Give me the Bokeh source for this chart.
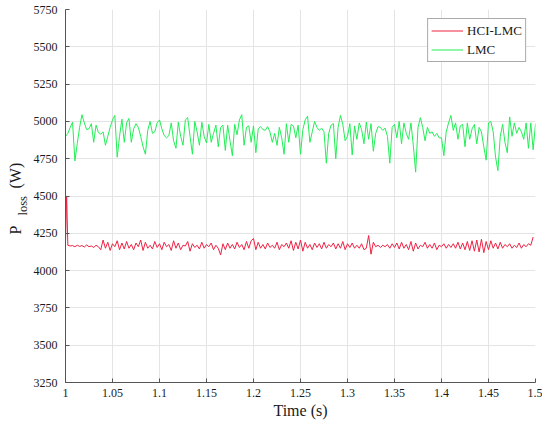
import numpy as np
from bokeh.plotting import figure
from bokeh.layouts import row
from bokeh.models import Range1d, FixedTicker, Legend, LegendItem
from bokeh.core.properties import value
from bokeh.embed import file_html
from bokeh.resources import INLINE

# ---- data ----
t_start = 1.0
t_step = 0.0025

lmc_values = [
    4900, 4920, 4960, 4995, 4735, 4850, 4960, 5045, 4990, 4945,
    4950, 4985, 4860, 4975, 4925, 4915, 4930, 4840, 4900, 4960,
    5010, 5040, 4760, 4900, 5015, 4860, 4990, 5020, 4860, 4950,
    4985, 4960, 4900, 4830, 4780, 4940, 5000, 4920, 4930, 4990,
    5010, 4950, 4905, 4890, 4905, 4990, 4870, 4820, 4995, 4900,
    4840, 5010, 5025, 4900, 4780, 5000, 4930, 4840, 4995, 4900,
    4855, 4980, 4860, 4920, 4975, 4830, 4960, 4975, 4805, 4975,
    4870, 4770, 4980, 4910, 5010, 5045, 4840, 4960, 4970, 4860,
    4970, 4790, 4950, 4965, 4945, 4940, 4965, 4930, 4860, 4920,
    4840, 4960, 4890, 4780, 4985, 4860, 4980, 4970, 4890, 4975,
    4780, 4945, 5010, 5035, 4860, 4930, 5000, 4960, 4940, 4955,
    4930, 4720, 4920, 4975, 4985, 4750, 4960, 5040, 4980, 4870,
    4900, 4985, 4775, 4970, 4880, 4990, 4945, 4850, 4995, 4880,
    4985, 4800, 4920, 4965, 4960, 4940, 4955, 4900, 4720, 4960,
    4980, 4890, 5000, 4850, 4990, 4920, 4880, 4990, 4840, 4660,
    4960, 5025, 4960, 4870, 4960, 4920, 4930, 4900, 4920, 4890,
    4890, 4770, 4930, 4990, 5040, 4940, 4990, 4880, 4970, 4980,
    4830, 4990, 4880, 4950, 4980, 4850, 4960, 4930, 4830, 4740,
    4990, 5000, 4930, 4760, 4670, 4900, 4980, 4860, 4790, 5030,
    4900, 4990, 4920, 4960, 4930, 4880, 4990, 4820, 4990, 4810,
    4985,
]

hci_spike_t = [1.0, 1.0012]
hci_spike_values = [4190, 4500]
hci_values = [
    4170, 4165, 4168, 4160, 4170, 4162, 4168, 4158, 4172, 4160,
    4165, 4155, 4170, 4160,
    4140, 4205, 4150, 4190, 4135, 4180, 4160, 4200, 4140, 4185,
    4145, 4195, 4150, 4175, 4140, 4185, 4160, 4205, 4135, 4190,
    4150, 4170, 4145, 4195, 4155, 4180, 4140, 4190, 4160, 4175,
    4135, 4200, 4150, 4185, 4140, 4170, 4165, 4195, 4130, 4180,
    4155, 4170, 4145, 4190, 4150, 4175, 4160, 4185, 4140, 4170,
    4150, 4105, 4180, 4140, 4185, 4150, 4175, 4145, 4190, 4155,
    4175, 4140, 4195, 4150, 4200, 4215, 4140, 4190, 4150, 4175,
    4145, 4185, 4155, 4170, 4150, 4190, 4140, 4175, 4160, 4185,
    4150, 4200, 4135, 4190, 4145, 4205, 4130, 4190, 4150, 4175,
    4140, 4185, 4155, 4180, 4145, 4190, 4150, 4175, 4160, 4185,
    4145, 4180, 4150, 4195, 4140, 4180, 4155, 4185, 4150, 4170,
    4150, 4180, 4140, 4150, 4235, 4110, 4190, 4160, 4170, 4155,
    4170, 4160, 4175, 4150, 4180, 4155, 4185, 4145, 4190, 4150,
    4175, 4140, 4195, 4130, 4185, 4145, 4170, 4160, 4190, 4150,
    4175, 4150, 4185, 4140, 4170, 4160, 4180, 4150, 4175, 4155,
    4180, 4150, 4190, 4145, 4185, 4140, 4195, 4135, 4200, 4130,
    4205, 4125, 4210, 4120, 4195, 4140, 4200, 4150, 4185, 4145,
    4190, 4150, 4175, 4160, 4180, 4150, 4170, 4155, 4185, 4150,
    4175, 4160, 4180, 4170, 4225,
]

x_ticks = [1.0, 1.05, 1.1, 1.15, 1.2, 1.25, 1.3, 1.35, 1.4, 1.45, 1.5]
x_tick_labels = ["1", "1.05", "1.1", "1.15", "1.2", "1.25", "1.3", "1.35", "1.4", "1.45", "1.5"]
y_ticks = [3250, 3500, 3750, 4000, 4250, 4500, 4750, 5000, 5250, 5500, 5750]
series_names = ["HCI-LMC", "LMC"]
y_label_parts = ["P", "loss", "(W)"]

# ---- build ----
lmc_t = t_start + t_step * np.arange(len(lmc_values))
hci_t = np.concatenate([hci_spike_t, t_start + t_step * (1 + np.arange(len(hci_values)))])
hci_all = hci_spike_values + hci_values

FONT = "Liberation Serif"
AXIS_COLOR = "#555555"
GRID_COLOR = "#e4e4e4"
TEXT_COLOR = "#1a1a1a"
RED = "#ee2244"
GREEN = "#22ee55"

H = 422
BT, BB = 9, 40   # top / bottom borders (frames of both parts are aligned)
LW = 30          # width of the strip holding the y-axis title
W = 542 - LW

# --- strip with the rotated y-axis title (P_loss (W)) ---
# its y range is chosen so that data y == H - (pixel row from top)
lab = figure(width=LW, height=H, output_backend="svg", toolbar_location=None,
             x_range=Range1d(0, LW), y_range=Range1d(BB, H - BT),
             x_axis_location=None, y_axis_location=None,
             min_border_left=0, min_border_right=0, min_border_top=BT, min_border_bottom=BB)
lab.grid.visible = False
lab.outline_line_color = None
lab.background_fill_color = "white"
lab.border_fill_color = "white"
lab.text(x=[15, 15], y=[H - 234, H - 188], text=[y_label_parts[0], y_label_parts[2]],
         angle=np.pi / 2, text_font=value(FONT), text_font_size="16px",
         text_color=TEXT_COLOR, text_align="left", text_baseline="alphabetic")
lab.text(x=[22.5], y=[H - 215], text=[y_label_parts[1]],
         angle=np.pi / 2, text_font=value(FONT), text_font_size="12.5px",
         text_color=TEXT_COLOR, text_align="left", text_baseline="alphabetic")

# --- main plot ---
p = figure(width=W, height=H, output_backend="svg", toolbar_location=None,
           x_range=Range1d(1.0, 1.5), y_range=Range1d(3250, 5750),
           min_border_left=32, min_border_right=7, min_border_top=BT,
           min_border_bottom=BB)
p.background_fill_color = "white"
p.border_fill_color = "white"
p.outline_line_color = None

r_hci = p.line(hci_t, hci_all, line_color=RED, line_width=1)
r_lmc = p.line(lmc_t, lmc_values, line_color=GREEN, line_width=1)

p.xaxis.ticker = FixedTicker(ticks=x_ticks)
p.xaxis.major_label_overrides = {tk: lb for tk, lb in zip(x_ticks, x_tick_labels)}
p.yaxis.ticker = FixedTicker(ticks=y_ticks)
p.yaxis.major_label_overrides = {tk: str(tk) for tk in y_ticks}

p.axis.axis_line_color = AXIS_COLOR
p.axis.axis_line_width = 1
p.axis.major_tick_line_color = AXIS_COLOR
p.axis.major_tick_in = 4
p.axis.major_tick_out = 0
p.axis.minor_tick_line_color = None
p.axis.major_label_text_font = FONT
p.axis.major_label_text_font_size = "12px"
p.axis.major_label_text_color = TEXT_COLOR

p.xaxis.major_label_standoff = 6
p.yaxis.major_label_standoff = 8
p.xaxis.axis_label = "Time (s)"
p.xaxis.axis_label_text_font = FONT
p.xaxis.axis_label_text_font_size = "16px"
p.xaxis.axis_label_text_font_style = "normal"
p.xaxis.axis_label_text_color = TEXT_COLOR
p.xaxis.axis_label_standoff = 2

p.xgrid.ticker = FixedTicker(ticks=x_ticks)
p.ygrid.ticker = FixedTicker(ticks=y_ticks)
p.xgrid.grid_line_color = GRID_COLOR
p.ygrid.grid_line_color = GRID_COLOR

legend = Legend(items=[LegendItem(label=series_names[0], renderers=[r_hci]),
                       LegendItem(label=series_names[1], renderers=[r_lmc])],
                location="top_right")
legend.label_text_font = FONT
legend.label_text_font_size = "13px"
legend.label_text_color = TEXT_COLOR
legend.border_line_color = "#555555"
legend.border_line_width = 1
legend.background_fill_color = "white"
legend.background_fill_alpha = 1
legend.glyph_width = 32
legend.glyph_height = 17
legend.label_height = 17
legend.label_standoff = 4
legend.spacing = 2
legend.padding = 3
legend.margin = 9
p.add_layout(legend)

layout = row(lab, p)
open("out.html", "w").write(file_html(layout, INLINE))
